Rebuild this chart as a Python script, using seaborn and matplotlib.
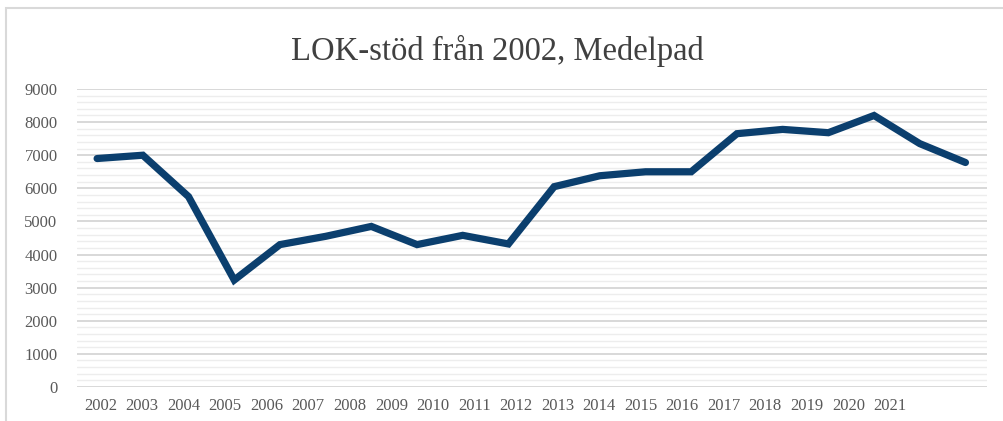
import matplotlib
matplotlib.use("Agg")
import matplotlib.pyplot as plt
import numpy as np
import pandas as pd
import seaborn as sns
from matplotlib.patches import Rectangle
from matplotlib.ticker import MultipleLocator

# Data
years = [2002, 2003, 2004, 2005, 2006, 2007, 2008, 2009, 2010, 2011,
         2012, 2013, 2014, 2015, 2016, 2017, 2018, 2019, 2020, 2021]
stod = [6900, 7000, 5750, 3230, 4300, 4550, 4850, 4300, 4580, 4320,
        6050, 6380, 6500, 6500, 7650, 7780, 7680, 8200, 7350, 6780]
year_labels = [str(y) for y in years]
yticks = [0, 1000, 2000, 3000, 4000, 5000, 6000, 7000, 8000, 9000]

df = pd.DataFrame({"idx": np.arange(len(stod)), "stod": stod})

sns.set_theme(style="white")
plt.rcParams["font.family"] = ["Liberation Serif", "DejaVu Serif"]

fig = plt.figure(figsize=(10.04, 4.21), dpi=100)
ax = fig.add_axes([0.0767, 0.0808, 0.9063, 0.7078])

sns.lineplot(data=df, x="idx", y="stod", ax=ax, color="#0B3F6E",
             linewidth=5.2, solid_joinstyle="miter", solid_capstyle="round",
             zorder=3)

ax.set_ylim(0, 9000)
ax.set_xlim(-0.44, 19.47)
ax.yaxis.set_minor_locator(MultipleLocator(200))
ax.set_yticks(yticks)
ax.set_yticklabels([str(v) for v in yticks])
ax.grid(True, which="major", axis="y", color="#D6D6D6", linewidth=1.3)
ax.grid(True, which="minor", axis="y", color="#EDEDED", linewidth=1.0)
ax.grid(False, axis="x")

# the category labels in the source are squeezed to the left of the points
ax.set_xticks(np.linspace(0.07, 17.35, len(year_labels)))
ax.set_xticklabels(year_labels)

ax.tick_params(axis="both", length=0, labelsize=12, labelcolor="#595959")
ax.tick_params(axis="y", pad=14)
ax.tick_params(axis="x", pad=8)
ax.set_xlabel("")
ax.set_ylabel("")
for s in ax.spines.values():
    s.set_visible(False)

fig.text(0.495, 1 - 60 / 421, "LOK-stöd från 2002, Medelpad", ha="center",
         va="baseline", fontsize=23.5, color="#404040")

fig.patches.append(Rectangle((6 / 1004, -0.05), 1.2, 1 - 8 / 421 + 0.05,
                             transform=fig.transFigure, fill=False,
                             edgecolor="#D9D9D9", linewidth=1.5))

fig.savefig("out.png", dpi=100)
